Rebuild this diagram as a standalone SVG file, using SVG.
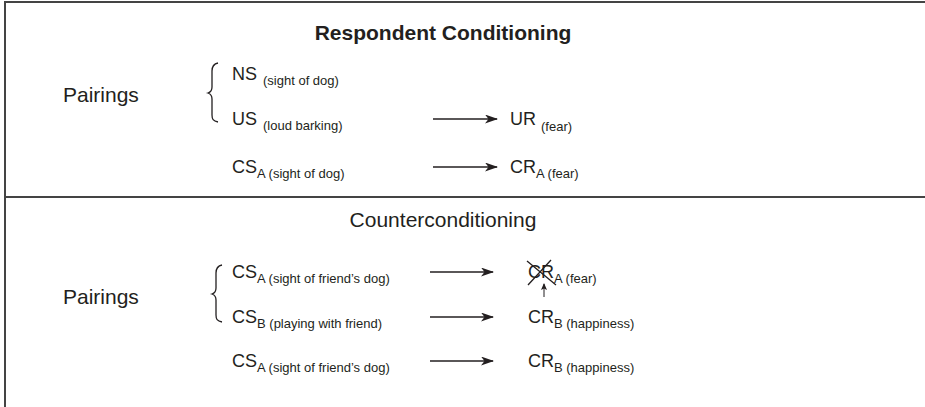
<svg xmlns="http://www.w3.org/2000/svg" width="925" height="407" viewBox="0 0 925 407">
<style>
text{font-family:"Liberation Sans",Arial,sans-serif;fill:#231f20}
.lbl{font-size:18px}
.sm{font-size:13px}
.head{font-size:21px}
.ln{stroke:#231f20;stroke-width:1.3;fill:none}
.frame{stroke:#444;stroke-width:2;fill:none}
</style>
<defs>
<marker id="ah" markerUnits="userSpaceOnUse" markerWidth="14" markerHeight="10" refX="12" refY="4.5" orient="auto">
<path d="M0,0 L13,4.5 L0,9 L3.5,4.5 z" fill="#231f20"/>
</marker>
<marker id="ahs" markerUnits="userSpaceOnUse" markerWidth="8" markerHeight="8" refX="6" refY="3" orient="auto">
<path d="M0,0 L7,3 L0,6 L1.5,3 z" fill="#231f20"/>
</marker>
</defs>
<g id="frame">
<path class="frame" d="M925,2 H5 V407"/>
<path class="frame" d="M5,197 H925"/>
</g>
<g id="title1"><text class="head" x="443" y="40" text-anchor="middle" font-weight="bold">Respondent Conditioning</text></g>
<g id="pairings1"><text class="head" x="63" y="102">Pairings</text></g>
<g id="brace1"><path class="ln" d="M218,63 C213,64 212,67 212,71 V87 C212,90 211,92 208,93 C211,94 212,96 212,99 V115 C212,119 213,121 218,122"/></g>
<g id="ns"><text class="lbl" x="232" y="80">NS<tspan class="sm" x="263" dy="5">(sight of dog)</tspan></text></g>
<g id="us"><text class="lbl" x="232" y="125">US<tspan class="sm" x="263" dy="5">(loud barking)</tspan></text></g>
<g id="ur"><text class="lbl" x="510" y="125">UR<tspan class="sm" x="541" dy="6">(fear)</tspan></text></g>
<g id="csa1"><text class="lbl" x="232" y="173">CS<tspan class="sm" dy="5">A (sight of dog)</tspan></text></g>
<g id="cra1"><text class="lbl" x="510" y="173">CR<tspan class="sm" dy="5">A (fear)</tspan></text></g>
<g id="title2"><text class="head" x="443" y="227" text-anchor="middle">Counterconditioning</text></g>
<g id="pairings2"><text class="head" x="63" y="304">Pairings</text></g>
<g id="brace2"><path class="ln" d="M222,265 C217,266 216,269 216,273 V288 C216,291 215,293 212,294 C215,295 216,297 216,300 V315 C216,319 217,321 222,322"/></g>
<g id="csa2"><text class="lbl" x="232" y="278">CS<tspan class="sm" dy="5">A (sight of friend’s dog)</tspan></text></g>
<g id="cra2"><text class="lbl" x="528" y="278">CR<tspan class="sm" dy="5">A (fear)</tspan></text>
<path class="ln" d="M527,261 L556,285 M528,285 L551,260"/></g>
<g id="csb"><text class="lbl" x="232" y="323">CS<tspan class="sm" dy="5">B (playing with friend)</tspan></text></g>
<g id="crb1"><text class="lbl" x="528" y="323">CR<tspan class="sm" dy="5">B (happiness)</tspan></text></g>
<g id="csa3"><text class="lbl" x="232" y="367">CS<tspan class="sm" dy="5">A (sight of friend’s dog)</tspan></text></g>
<g id="crb2"><text class="lbl" x="528" y="367">CR<tspan class="sm" dy="5">B (happiness)</tspan></text></g>
<g id="connectors">
<line class="ln" x1="433" y1="119" x2="497" y2="119" marker-end="url(#ah)"/>
<line class="ln" x1="433" y1="167" x2="497" y2="167" marker-end="url(#ah)"/>
<line class="ln" x1="430" y1="272" x2="493" y2="272" marker-end="url(#ah)"/>
<line class="ln" x1="430" y1="317" x2="493" y2="317" marker-end="url(#ah)"/>
<line class="ln" x1="430" y1="361" x2="493" y2="361" marker-end="url(#ah)"/>
<line x1="544" y1="297" x2="544" y2="284" stroke="#231f20" stroke-width="1" marker-end="url(#ahs)"/>
</g>
</svg>
